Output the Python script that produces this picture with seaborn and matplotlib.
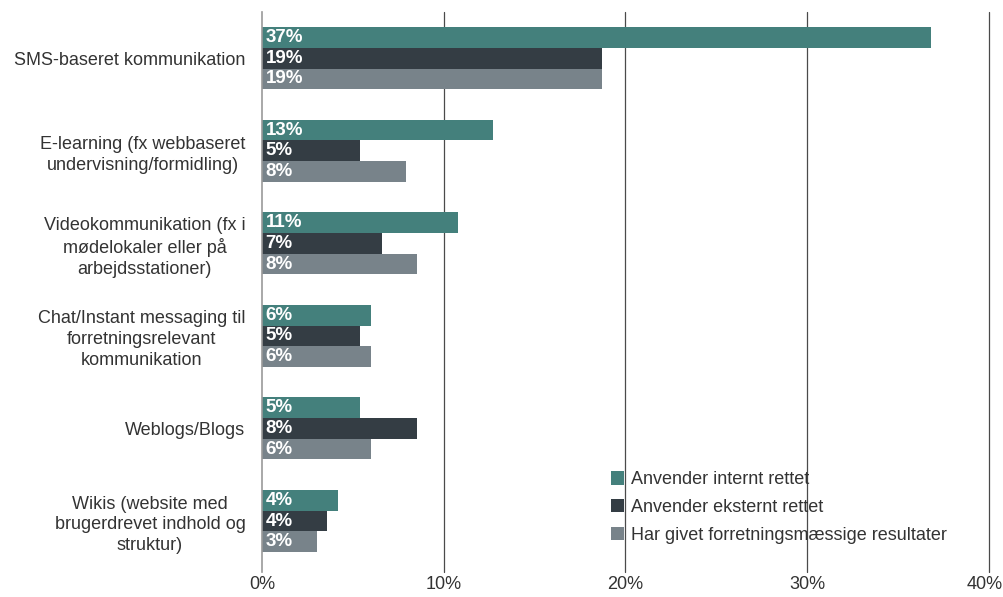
import matplotlib
matplotlib.use("Agg")
import matplotlib.pyplot as plt
import matplotlib.transforms as mtransforms
import seaborn as sns
import pandas as pd

categories = [
    "SMS-baseret kommunikation",
    "E-learning (fx webbaseret\nundervisning/formidling)",
    "Videokommunikation (fx i\nmødelokaler eller på\narbejdsstationer)",
    "Chat/Instant messaging til\nforretningsrelevant\nkommunikation",
    "Weblogs/Blogs",
    "Wikis (website med\nbrugerdrevet indhold og\nstruktur)",
]
series = ["Anvender internt rettet", "Anvender eksternt rettet",
          "Har givet forretningsmæssige resultater"]
internt = [36.8, 12.7, 10.8, 6.0, 5.4, 4.2]
eksternt = [18.7, 5.4, 6.6, 5.4, 8.5, 3.6]
resultater = [18.7, 7.9, 8.5, 6.0, 6.0, 3.0]
x_ticks = [0, 10, 20, 30, 40]
x_tick_labels = ["0%", "10%", "20%", "30%", "40%"]
colors = ["#44807C", "#343D44", "#78838A"]

rows = []
for name, vals in zip(series, [internt, eksternt, resultater]):
    for cat, v in zip(categories, vals):
        rows.append({"kategori": cat, "serie": name, "andel": v})
df = pd.DataFrame(rows)

sns.set_style("white")
plt.rcParams["font.family"] = ["Liberation Sans", "DejaVu Sans"]

fig = plt.figure(figsize=(10.04, 5.97), dpi=100)
ax = fig.add_axes([0.261, 0.042, 0.724, 0.938])

sns.barplot(data=df, y="kategori", x="andel", hue="serie", order=categories,
            hue_order=series, palette=colors, orient="h", width=0.67,
            saturation=1, ax=ax, errorbar=None, linewidth=0)

for container in ax.containers:
    for bar in container:
        ax.text(bar.get_x() + 0.2, bar.get_y() + bar.get_height() / 2,
                f"{round(bar.get_width()):.0f}%",
                color="white", fontsize=13.5, fontweight="bold",
                ha="left", va="center")

ax.set_xlim(0, 40)
ax.set_ylim(5.55, -0.5)
ax.set_xticks(x_ticks)
ax.set_xticklabels(x_tick_labels, fontsize=13, color="#333333")
ax.set_xlabel("")
ax.set_ylabel("")
ax.tick_params(axis="x", length=0, pad=3)
ax.tick_params(axis="y", length=0, pad=12)
for lab in ax.get_yticklabels():
    lab.set_fontsize(13)
    lab.set_color("#333333")
    lab.set_multialignment("center")
    lab.set_linespacing(1.3)

# keep the right-most tick label inside the canvas
last = ax.get_xticklabels()[-1]
last.set_transform(last.get_transform() +
                   mtransforms.ScaledTranslation(-4 / 100, 0, fig.dpi_scale_trans))

for v in x_ticks[1:]:
    ax.axvline(v, color="#4a4a4a", linewidth=0.9, zorder=0, clip_on=False)
for s in ["top", "right", "bottom"]:
    ax.spines[s].set_visible(False)
ax.spines["left"].set_color("#999999")
ax.spines["left"].set_linewidth(1.2)

handles, labs = ax.get_legend_handles_labels()
leg = ax.legend(handles, labs, loc="lower left", bbox_to_anchor=(0.47, 0.037),
                frameon=False, fontsize=13, handlelength=0.75,
                handleheight=0.75, handletextpad=0.35, labelspacing=0.6,
                borderaxespad=0)
for t in leg.get_texts():
    t.set_color("#333333")

fig.savefig("out.png", dpi=100)
